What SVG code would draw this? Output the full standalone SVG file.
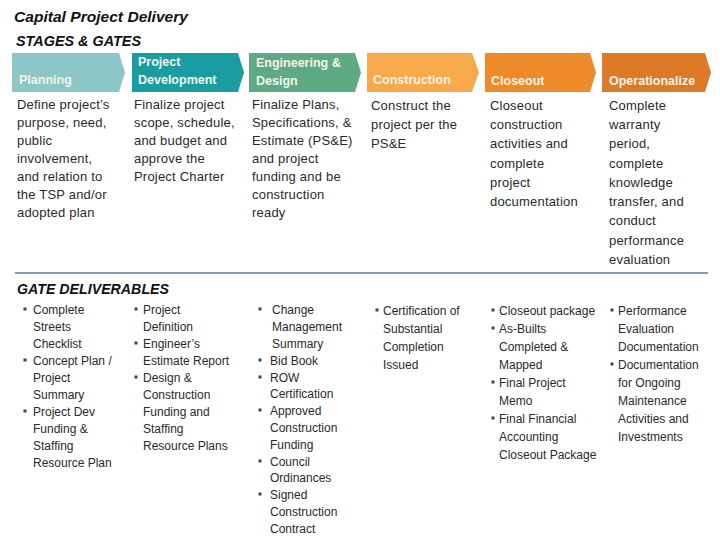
<svg xmlns="http://www.w3.org/2000/svg" width="720" height="540" viewBox="0 0 720 540">
<style>
.title{font-family:"Liberation Sans",Arial,sans-serif;font-weight:bold;font-style:italic;font-size:15px;fill:#111}
.lbl{font-family:"Liberation Sans",Arial,sans-serif;font-weight:bold;font-size:12.5px;fill:#F2F4EA}
.desc{font-family:"Liberation Sans",Arial,sans-serif;font-size:13px;fill:#2a2a2a;letter-spacing:0.2px}
.bul{font-family:"Liberation Sans",Arial,sans-serif;font-size:12px;fill:#2a2a2a}
.sq{fill:#444}
</style>
<rect width="720" height="540" fill="#fff"/>
<text class="title" x="14" y="22" textLength="174" lengthAdjust="spacingAndGlyphs">Capital Project Delivery</text>
<text class="title" x="16" y="46" textLength="125" lengthAdjust="spacingAndGlyphs">STAGES &amp; GATES</text>

<g id="stage-planning">
<path d="M12,53 H119 L125,72.5 L119,92 H12 Z" fill="#8CC6C7"/>
<text class="lbl" x="19" y="84">Planning</text>
</g>
<g id="stage-project-development">
<path d="M132,53 H238 L244,72.5 L238,92 H132 Z" fill="#1A9CA2"/>
<text class="lbl" x="138" y="66">Project</text>
<text class="lbl" x="138" y="84">Development</text>
</g>
<g id="stage-engineering-design">
<path d="M249,53 H355 L361,72.5 L355,92 H249 Z" fill="#5DAA84"/>
<text class="lbl" x="256" y="67">Engineering &amp;</text>
<text class="lbl" x="256" y="85">Design</text>
</g>
<g id="stage-construction">
<path d="M367,53 H472 L479,72.5 L472,92 H367 Z" fill="#F7AA4C"/>
<text class="lbl" x="373" y="84">Construction</text>
</g>
<g id="stage-closeout">
<path d="M485,53 H590 L596,72.5 L590,92 H485 Z" fill="#EF8A2B"/>
<text class="lbl" x="491" y="85">Closeout</text>
</g>
<g id="stage-operationalize">
<path d="M602,53 H705 L711,72.5 L705,92 H602 Z" fill="#DD7A27"/>
<text class="lbl" x="609" y="85">Operationalize</text>
</g>

<g id="desc-planning" class="desc">
<text x="17" y="109">Define project’s</text>
<text x="17" y="127">purpose, need,</text>
<text x="17" y="145">public</text>
<text x="17" y="163">involvement,</text>
<text x="17" y="181">and relation to</text>
<text x="17" y="199">the TSP and/or</text>
<text x="17" y="217">adopted plan</text>
</g>
<g id="desc-project-development" class="desc">
<text x="134" y="109">Finalize project</text>
<text x="134" y="127">scope, schedule,</text>
<text x="134" y="145">and budget and</text>
<text x="134" y="163">approve the</text>
<text x="134" y="181">Project Charter</text>
</g>
<g id="desc-engineering-design" class="desc">
<text x="252" y="109">Finalize Plans,</text>
<text x="252" y="127">Specifications, &amp;</text>
<text x="252" y="145">Estimate (PS&amp;E)</text>
<text x="252" y="163">and project</text>
<text x="252" y="181">funding and be</text>
<text x="252" y="199">construction</text>
<text x="252" y="217">ready</text>
</g>
<g id="desc-construction" class="desc">
<text x="371" y="110">Construct the</text>
<text x="371" y="129">project per the</text>
<text x="371" y="148">PS&amp;E</text>
</g>
<g id="desc-closeout" class="desc">
<text x="490" y="110">Closeout</text>
<text x="490" y="129">construction</text>
<text x="490" y="148">activities and</text>
<text x="490" y="168">complete</text>
<text x="490" y="187">project</text>
<text x="490" y="206">documentation</text>
</g>
<g id="desc-operationalize" class="desc">
<text x="609" y="110">Complete</text>
<text x="609" y="129">warranty</text>
<text x="609" y="148">period,</text>
<text x="609" y="168">complete</text>
<text x="609" y="187">knowledge</text>
<text x="609" y="206">transfer, and</text>
<text x="609" y="225">conduct</text>
<text x="609" y="245">performance</text>
<text x="609" y="264">evaluation</text>
</g>

<g id="connectors">
<line x1="15" y1="273" x2="708" y2="273" stroke="#5F7C92" stroke-width="1.5"/>
</g>

<text class="title" x="17" y="294" font-size="14" textLength="152" lengthAdjust="spacingAndGlyphs">GATE DELIVERABLES</text>

<g id="gate-planning" class="bul">
<rect class="sq" x="23.5" y="307.5" width="3" height="3"/>
<rect class="sq" x="23.5" y="358.5" width="3" height="3"/>
<rect class="sq" x="23.5" y="409.5" width="3" height="3"/>
<text x="33" y="314">Complete</text>
<text x="33" y="331">Streets</text>
<text x="33" y="348">Checklist</text>
<text x="33" y="365">Concept Plan /</text>
<text x="33" y="382">Project</text>
<text x="33" y="399">Summary</text>
<text x="33" y="416">Project Dev</text>
<text x="33" y="433">Funding &amp;</text>
<text x="33" y="450">Staffing</text>
<text x="33" y="467">Resource Plan</text>
</g>
<g id="gate-project-development" class="bul">
<rect class="sq" x="134.5" y="307.5" width="3" height="3"/>
<rect class="sq" x="134.5" y="341.5" width="3" height="3"/>
<rect class="sq" x="134.5" y="375.5" width="3" height="3"/>
<text x="143" y="314">Project</text>
<text x="143" y="331">Definition</text>
<text x="143" y="348">Engineer’s</text>
<text x="143" y="365">Estimate Report</text>
<text x="143" y="382">Design &amp;</text>
<text x="143" y="399">Construction</text>
<text x="143" y="416">Funding and</text>
<text x="143" y="433">Staffing</text>
<text x="143" y="450">Resource Plans</text>
</g>
<g id="gate-engineering-design" class="bul">
<rect class="sq" x="258.5" y="307.5" width="3" height="3"/>
<rect class="sq" x="258.5" y="358.5" width="3" height="3"/>
<rect class="sq" x="258.5" y="375.5" width="3" height="3"/>
<rect class="sq" x="258.5" y="408.5" width="3" height="3"/>
<rect class="sq" x="258.5" y="459.5" width="3" height="3"/>
<rect class="sq" x="258.5" y="492.5" width="3" height="3"/>
<text x="272" y="314">Change</text>
<text x="272" y="331">Management</text>
<text x="272" y="348">Summary</text>
<text x="270" y="365">Bid Book</text>
<text x="270" y="382">ROW</text>
<text x="270" y="398">Certification</text>
<text x="270" y="415">Approved</text>
<text x="270" y="432">Construction</text>
<text x="270" y="449">Funding</text>
<text x="270" y="466">Council</text>
<text x="270" y="482">Ordinances</text>
<text x="270" y="499">Signed</text>
<text x="270" y="516">Construction</text>
<text x="270" y="533">Contract</text>
</g>
<g id="gate-construction" class="bul">
<rect class="sq" x="375.5" y="308.5" width="3" height="3"/>
<text x="383" y="315">Certification of</text>
<text x="383" y="333">Substantial</text>
<text x="383" y="351">Completion</text>
<text x="383" y="369">Issued</text>
</g>
<g id="gate-closeout" class="bul">
<rect class="sq" x="491.5" y="308.5" width="3" height="3"/>
<rect class="sq" x="491.5" y="326.5" width="3" height="3"/>
<rect class="sq" x="491.5" y="380.5" width="3" height="3"/>
<rect class="sq" x="491.5" y="416.5" width="3" height="3"/>
<text x="499" y="315">Closeout package</text>
<text x="499" y="333">As-Builts</text>
<text x="499" y="351">Completed &amp;</text>
<text x="499" y="369">Mapped</text>
<text x="499" y="387">Final Project</text>
<text x="499" y="405">Memo</text>
<text x="499" y="423">Final Financial</text>
<text x="499" y="441">Accounting</text>
<text x="499" y="459">Closeout Package</text>
</g>
<g id="gate-operationalize" class="bul">
<rect class="sq" x="610.5" y="308.5" width="3" height="3"/>
<rect class="sq" x="610.5" y="362.5" width="3" height="3"/>
<text x="618" y="315">Performance</text>
<text x="618" y="333">Evaluation</text>
<text x="618" y="351">Documentation</text>
<text x="618" y="369">Documentation</text>
<text x="618" y="387">for Ongoing</text>
<text x="618" y="405">Maintenance</text>
<text x="618" y="423">Activities and</text>
<text x="618" y="441">Investments</text>
</g>
</svg>
